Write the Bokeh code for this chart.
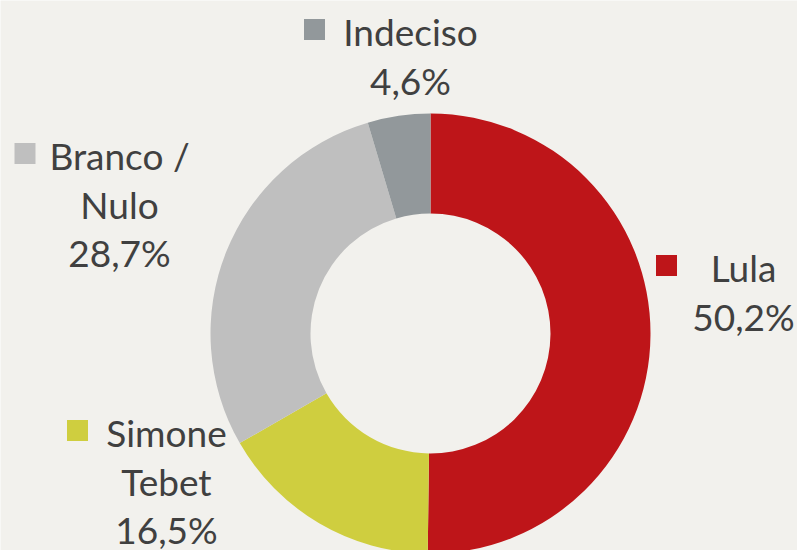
import math
from bokeh.plotting import figure
from bokeh.models import Range1d, ColumnDataSource
from bokeh.core.properties import value
from bokeh.embed import file_html
from bokeh.resources import INLINE

# ---- data ----
categories = ["Lula", "Simone Tebet", "Branco / Nulo", "Indeciso"]
label_lines = [["Lula"], ["Simone", "Tebet"], ["Branco /", "Nulo"], ["Indeciso"]]
shares = [50.2, 16.5, 28.7, 4.6]
colors = ["#BE1519", "#CFCE3F", "#BFBFBF", "#92989B"]

# ---- layout (screen pixel coords; y downward) ----
W, H = 797, 550
BG = "#F2F1ED"
TEXT = "#404040"
FONT = "Lato"
FSIZE = "37px"
LINE_H = 48.5
TEXT_SHIFT = -12   # compensate renderer baseline offset
center_screen = (430, 333)
r_outer, r_inner = 220, 120
# per label: text centre x, first baseline y, legend square centre x
label_layout = [
    (743, 279, 666),
    (166, 444, 77),
    (119, 167, 24.5),
    (410, 43, 314),
]
SQ = 21

def dy(sy):
    return H - sy

p = figure(width=W, height=H, output_backend="svg", toolbar_location=None,
           x_range=Range1d(0, W), y_range=Range1d(0, H),
           min_border=0, background_fill_color=BG, border_fill_color=BG,
           outline_line_color=None)
p.axis.visible = False
p.grid.visible = False

# wedges
total = sum(shares)
starts, ends = [], []
a = math.pi / 2
for s in shares:
    starts.append(a)
    a = a - 2 * math.pi * s / total
    ends.append(a)
src = ColumnDataSource(dict(start=starts, end=ends, color=colors, cat=categories))
p.annular_wedge(x=center_screen[0], y=dy(center_screen[1]), inner_radius=r_inner,
                outer_radius=r_outer, start_angle="start", end_angle="end",
                direction="clock", fill_color="color", line_color=None, source=src)

# labels
for lines, s, (cx, by, sqx), col in zip(label_lines, shares, label_layout, colors):
    texts = lines + [f"{s:.1f}".replace(".", ",") + "%"]
    xs = [cx] * len(texts)
    ys = [dy(by + TEXT_SHIFT + i * LINE_H) for i in range(len(texts))]
    p.text(x=xs, y=ys, text=texts, text_align="center", text_baseline="alphabetic",
           text_font=value(FONT), text_font_size=FSIZE, text_color=TEXT)
    p.rect(x=[sqx], y=[dy(by - 14)], width=SQ, height=SQ, fill_color=col, line_color=None)

open("out.html", "w").write(file_html(p, INLINE))
